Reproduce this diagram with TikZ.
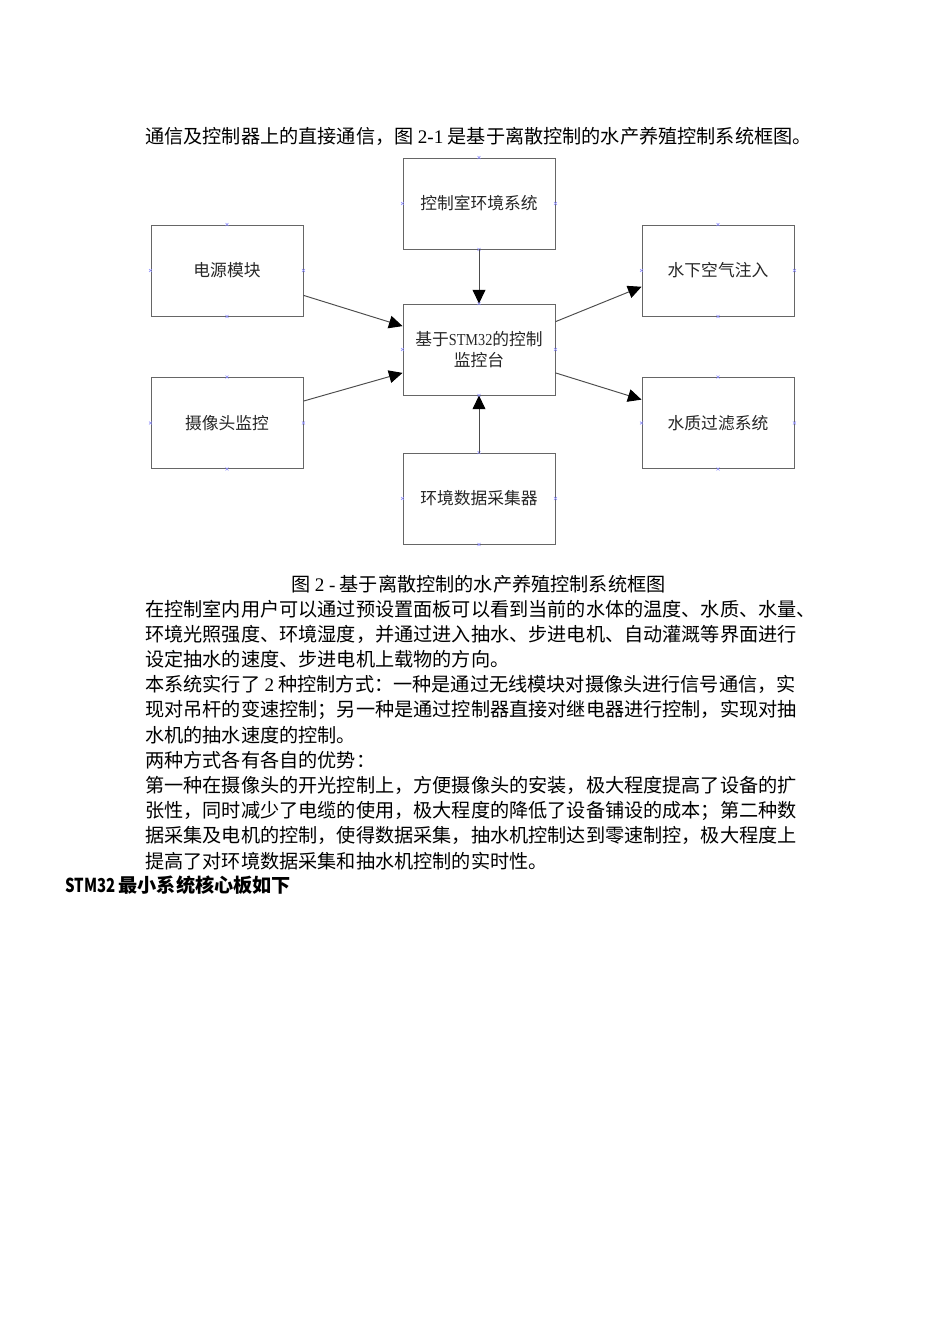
\documentclass[tikz,border=0pt]{standalone}
\usepackage{fontspec}
\setmainfont{Liberation Serif}
\newfontfamily\cjk{Noto Sans CJK SC}
\usetikzlibrary{arrows.meta}

\begin{document}
\begin{tikzpicture}[x=0.6263pt,y=-0.6263pt,
    box/.style={draw=black!60,line width=0.6pt,minimum width=95.2pt,minimum height=57pt,
      inner sep=0pt,align=center,text=black!85,font=\cjk\fontsize{10.5}{13}\selectfont},
    conn/.style={draw=black!70,line width=0.6pt,-{Triangle[length=8.5pt,width=8pt,black]}},
    cpt/.style={draw=blue!45,line width=0.4pt},
    txtline/.style={anchor=west,inner sep=0pt,font=\cjk\fontsize{12}{15}\selectfont}]

\useasboundingbox (0,0) rectangle (950,1344);
\fill[white] (0,0) rectangle (950,1344);

\coordinate (CR) at (479,203.5);
\coordinate (PW) at (227,270.5);
\coordinate (AI) at (718,270.5);
\coordinate (MC) at (479,349.5);
\coordinate (CA) at (227,423);
\coordinate (WF) at (718,423);
\coordinate (SE) at (479,498.5);

\node[txtline] (top) at (145,136) {通信及控制器上的直接通信，图\ {\rmfamily 2-1}\ 是基于离散控制的水产养殖控制系统框图。};

\node[box] (ctrlroom) at (CR) {控制室环境系统};
\node[box] (power) at (PW) {电源模块};
\node[box] (airinj) at (AI) {水下空气注入};
\node[box] (mcu) at (MC) {基于{\rmfamily\addfontfeature{FakeStretch=0.85}STM32}的控制\\监控台};
\node[box] (camera) at (CA) {摄像头监控};
\node[box] (filter) at (WF) {水质过滤系统};
\node[box] (sensor) at (SE) {环境数据采集器};

% connection points
\foreach \b in {ctrlroom,power,airinj,mcu,camera,filter,sensor}
  \foreach \a in {north,south,east,west}
    \draw[cpt] ([shift={(-1.5,-1.5)}]\b.\a) -- ++(3,3)
               ([shift={(-1.5,1.5)}]\b.\a) -- ++(3,-3);

\draw[conn] (ctrlroom.south) -- (mcu.north);
\draw[conn] (sensor.north) -- (mcu.south);
\draw[conn] (power.-18) -- (mcu.163);
\draw[conn] (camera.16) -- (mcu.197);
\draw[conn] (mcu.20) -- (airinj.192);
\draw[conn] (mcu.-17) -- (filter.163);

\node[txtline] (caption) at (291,584) {图\ {\rmfamily 2 -}\ 基于离散控制的水产养殖控制系统框图};

\node[txtline] (l1) at (145,609) {在控制室内用户可以通过预设置面板可以看到当前的水体的温度、水质、水量、};
\node[txtline] (l2) at (145,634.2) {环境光照强度、环境湿度，并通过进入抽水、步进电机、自动灌溉等界面进行};
\node[txtline] (l3) at (145,659.4) {设定抽水的速度、步进电机上载物的方向。};
\node[txtline] (l4) at (145,684.6) {本系统实行了\ {\rmfamily 2}\ 种控制方式：一种是通过无线模块对摄像头进行信号通信，实};
\node[txtline] (l5) at (145,709.8) {现对吊杆的变速控制；另一种是通过控制器直接对继电器进行控制，实现对抽};
\node[txtline] (l6) at (145,735) {水机的抽水速度的控制。};
\node[txtline] (l7) at (145,760.2) {两种方式各有各自的优势：};
\node[txtline] (l8) at (145,785.4) {第一种在摄像头的开光控制上，方便摄像头的安装，极大程度提高了设备的扩};
\node[txtline] (l9) at (145,810.6) {张性，同时减少了电缆的使用，极大程度的降低了设备铺设的成本；第二种数};
\node[txtline] (l10) at (145,835.8) {据采集及电机的控制，使得数据采集，抽水机控制达到零速制控，极大程度上};
\node[txtline] (l11) at (145,861) {提高了对环境数据采集和抽水机控制的实时性。};

\node[txtline,font=\cjk\bfseries\fontsize{12}{15}\selectfont] (head) at (65,885)
  {{\addfontfeature{FakeStretch=0.78}STM32}\,最小系统核心板如下};
\end{tikzpicture}
\end{document}
